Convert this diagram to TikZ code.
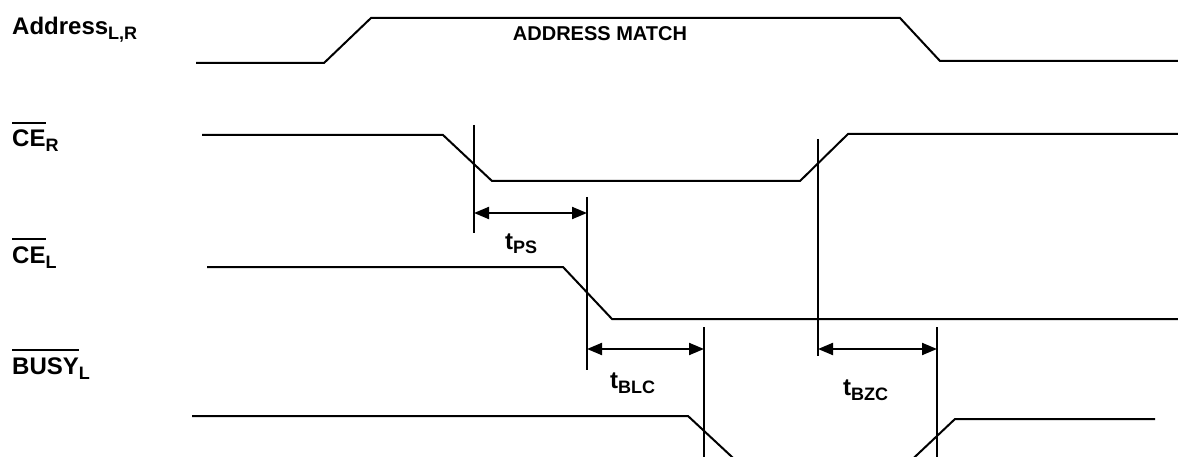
\documentclass[tikz,border=0pt]{standalone}
\usepackage{fontspec}
\setmainfont{Liberation Sans}
\usetikzlibrary{arrows.meta}
\newcommand{\lbsub}[1]{\raisebox{-5pt}{\fontsize{18}{18}\selectfont #1}}
\newcommand{\lbbar}[1]{\vbox{\hrule height 2pt\kern 6.5pt\hbox{#1}}}
\begin{document}
\begin{tikzpicture}[x=1pt,y=-1pt,
  sig/.style={line width=2pt, line join=miter},
  markline/.style={line width=2pt},
  dim/.style={line width=2pt, {Triangle[length=15pt,width=12pt]}-{Triangle[length=15pt,width=12pt]}},
  lab/.style={anchor=base west, inner sep=0pt, font=\fontsize{24}{24}\selectfont\bfseries},
  tlab/.style={anchor=base west, inner sep=0pt, font=\fontsize{24}{24}\selectfont\bfseries}]
\useasboundingbox (0,0) rectangle (1178,457);
\clip (0,0) rectangle (1178,457);
% signal names
\node[lab] (addr) at (12,35) {Address\lbsub{L,R}};
\node[lab] (cer) at (12,147) {\lbbar{CE}\lbsub{R}};
\node[lab] (cel) at (12,263) {\lbbar{CE}\lbsub{L}};
\node[lab] (busy) at (12,374) {\lbbar{BUSY}\lbsub{L}};
% waveforms
\draw[sig] (196,63) -- (324,63) -- (371,18) -- (900,18) -- (940,61) -- (1178,61);
\node[anchor=base, inner sep=0pt, font=\fontsize{20}{20}\selectfont\bfseries] (am) at (600,41) {ADDRESS MATCH};
\draw[sig] (202,135) -- (443,135) -- (492,181) -- (800,181) -- (848,134) -- (1178,134);
\draw[sig] (207,267) -- (563,267) -- (612,319) -- (1178,319);
\draw[sig] (192,416) -- (688,416) -- (746,470) -- (901,470) -- (955,419) -- (1155,419);
% marker lines
\coordinate (v1t) at (474,125); \coordinate (v1b) at (474,233);
\coordinate (v2t) at (587,197); \coordinate (v2b) at (587,370);
\coordinate (v3t) at (818,139); \coordinate (v3b) at (818,356);
\coordinate (v4t) at (704,327); \coordinate (v4b) at (704,460);
\coordinate (v5t) at (937,327); \coordinate (v5b) at (937,460);
\draw[markline] (v1t) -- (v1b);
\draw[markline] (v2t) -- (v2b);
\draw[markline] (v3t) -- (v3b);
\draw[markline] (v4t) -- (v4b);
\draw[markline] (v5t) -- (v5b);
% dimension arrows
\coordinate (ps1) at (474,213); \coordinate (ps2) at (587,213);
\coordinate (blc1) at (587,349); \coordinate (blc2) at (704,349);
\coordinate (bzc1) at (818,349); \coordinate (bzc2) at (937,349);
\draw[dim] (ps1) -- (ps2);
\draw[dim] (blc1) -- (blc2);
\draw[dim] (bzc1) -- (bzc2);
\node[tlab] (tps) at (505,249) {t\lbsub{PS}};
\node[tlab] (tblc) at (610,388) {t\lbsub{BLC}};
\node[tlab] (tbzc) at (843,395) {t\lbsub{BZC}};
\end{tikzpicture}
\end{document}
